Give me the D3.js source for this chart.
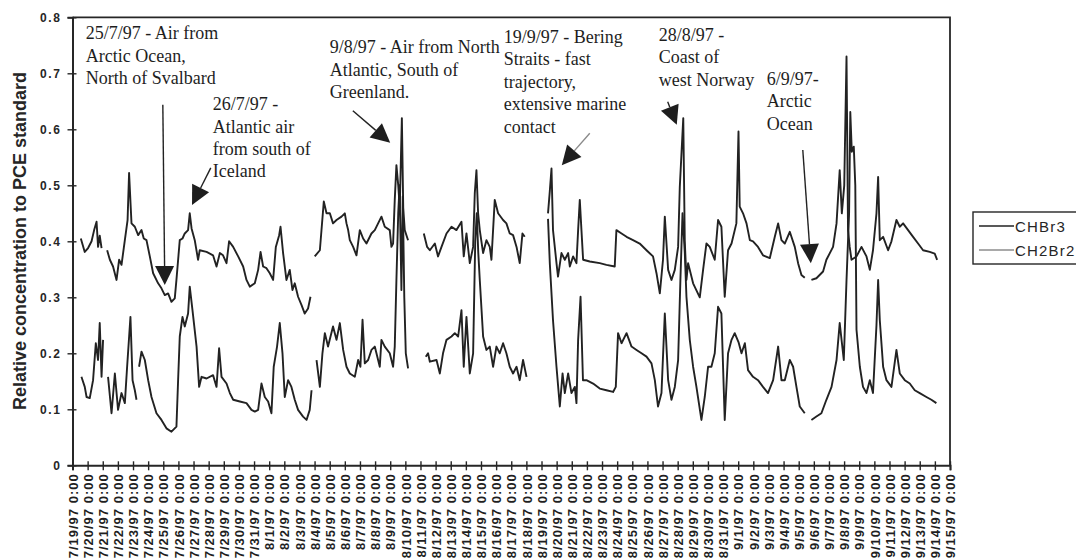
<!DOCTYPE html>
<html>
<head>
<meta charset="utf-8">
<script src="https://cdn.jsdelivr.net/npm/d3@7"></script>
<style>
  html, body { margin: 0; padding: 0; background: #fff; }
  svg { display: block; }
</style>
</head>
<body>
<svg id="chart" width="1076" height="560"></svg>
<script>
// Sampling period starts 7/19/97 0:00; samples are given as [days since start, relative concentration].
const startDate = "1997-07-19";
const endDate = "1997-09-15";
const yTicks = [0, 0.1, 0.2, 0.3, 0.4, 0.5, 0.6, 0.7, 0.8];
const seriesNames = ["CHBr3", "CH2Br2"];

// CHBr3 (null marks a break in the record)
const chbr3 = [
  [0.55,0.405],[0.81,0.381],[1.03,0.388],[1.26,0.40],[1.43,0.42],[1.59,0.435],[1.69,0.39],[1.80,0.41],[1.92,0.388],[2.1,null],
  [2.29,0.384],[2.47,0.367],[2.68,0.355],[2.91,0.331],[3.08,0.367],[3.24,0.358],[3.46,0.402],[3.64,0.438],[3.74,0.522],[3.90,0.432],
  [4.12,0.426],[4.34,0.411],[4.56,0.42],[4.71,0.405],[4.89,0.402],[5.11,0.373],[5.33,0.343],[5.66,0.325],[5.88,0.316],[6.10,0.304],
  [6.32,0.307],[6.54,0.292],[6.76,0.298],[6.87,0.331],[7.09,0.402],[7.27,0.405],[7.42,0.414],[7.64,0.42],[7.75,0.45],[7.87,0.423],
  [8.08,0.402],[8.30,0.367],[8.41,0.384],[8.86,0.381],[9.29,0.375],[9.52,0.355],[9.74,0.379],[9.95,0.375],[10.18,0.361],[10.35,0.40],
  [10.62,0.39],[10.95,0.373],[11.28,0.355],[11.50,0.331],[11.72,0.319],[12.05,0.325],[12.27,0.349],[12.43,0.381],[12.60,0.355],[12.82,0.352],
  [13.04,0.343],[13.26,0.331],[13.44,0.39],[13.66,0.411],[13.75,0.426],[13.92,0.379],[14.14,0.331],[14.36,0.349],[14.54,0.313],[14.69,0.325],
  [14.91,0.301],[15.14,0.286],[15.35,0.271],[15.57,0.28],[15.73,0.301],[15.9,null],
  [16.01,0.373],[16.35,0.384],[16.61,0.471],[16.79,0.45],[17.01,0.45],[17.22,0.432],[17.45,0.438],[17.78,0.444],[18.00,0.45],[18.11,0.432],
  [18.22,0.42],[18.33,0.402],[18.55,0.39],[18.77,0.375],[18.99,0.42],[19.21,0.405],[19.43,0.396],[19.76,0.414],[19.98,0.42],[20.42,0.444],
  [20.64,0.426],[20.97,0.42],[21.08,0.39],[21.19,0.396],[21.30,0.474],[21.41,0.536],[21.53,0.50],[21.63,0.46],[21.77,0.62],[21.86,0.46],
  [21.96,0.42],[22.18,0.402],[22.7,null],
  [23.22,0.414],[23.44,0.39],[23.62,0.384],[23.95,0.396],[24.16,0.373],[24.39,0.39],[24.72,0.414],[25.05,0.426],[25.38,0.42],[25.71,0.435],
  [25.86,0.373],[26.04,0.414],[26.26,0.361],[26.48,0.39],[26.59,0.486],[26.70,0.527],[26.81,0.45],[26.92,0.42],[27.14,0.379],[27.36,0.402],
  [27.58,0.39],[27.69,0.367],[27.91,0.474],[28.13,0.45],[28.46,0.438],[28.68,0.432],[28.90,0.414],[29.12,0.411],[29.35,0.39],[29.56,0.361],
  [29.74,0.414],[29.89,0.408],[30.6,null],
  [31.43,0.45],[31.55,0.49],[31.66,0.53],[31.76,0.42],[31.99,0.361],[32.09,0.337],[32.32,0.379],[32.54,0.367],[32.76,0.379],[32.87,0.355],
  [33.09,0.373],[33.31,0.361],[33.42,0.42],[33.53,0.474],[33.64,0.42],[33.75,0.367],[34.19,0.364],[34.85,0.361],[35.29,0.358],[35.84,0.355],
  [35.95,0.42],[36.29,0.414],[36.62,0.408],[37.05,0.402],[37.49,0.396],[37.94,0.384],[38.37,0.373],[38.60,0.343],[38.82,0.307],[39.03,0.367],
  [39.15,0.444],[39.37,0.349],[39.59,0.331],[39.81,0.349],[40.03,0.39],[40.14,0.497],[40.37,0.62],[40.47,0.40],[40.58,0.331],[40.69,0.361],
  [41.02,0.325],[41.46,0.30],[41.68,0.349],[41.90,0.396],[42.12,0.39],[42.45,0.367],[42.67,0.438],[42.89,0.426],[43.11,0.301],[43.33,0.384],
  [43.56,0.396],[43.88,0.432],[44.02,0.596],[44.10,0.462],[44.32,0.45],[44.55,0.432],[44.77,0.402],[44.98,0.40],[45.31,0.39],[45.64,0.375],
  [46.09,0.37],[46.42,0.408],[46.64,0.432],[46.86,0.402],[47.08,0.396],[47.41,0.417],[47.74,0.39],[47.96,0.361],[48.18,0.34],[48.40,0.335],
  [48.6,null],
  [48.84,0.331],[49.17,0.334],[49.61,0.346],[49.83,0.367],[50.27,0.39],[50.50,0.432],[50.71,0.527],[50.85,0.45],[51.01,0.50],[51.16,0.73],
  [51.26,0.42],[51.37,0.39],[51.49,0.367],[51.82,0.373],[52.15,0.39],[52.48,0.373],[52.70,0.349],[52.91,0.384],[53.14,0.45],[53.25,0.515],
  [53.36,0.402],[53.58,0.408],[53.91,0.384],[54.13,0.40],[54.46,0.438],[54.68,0.426],[54.90,0.432],[55.23,0.42],[55.56,0.408],[55.89,0.396],
  [56.22,0.384],[56.66,0.381],[56.99,0.378],[57.15,0.367]
];

// CH2Br2 (null marks a break in the record)
const ch2br2 = [
  [0.59,0.158],[0.81,0.14],[0.93,0.122],[1.14,0.12],[1.36,0.152],[1.54,0.218],[1.69,0.188],[1.80,0.254],[1.92,0.158],[2.02,0.224],[2.15,null],
  [2.35,0.158],[2.58,0.093],[2.80,0.164],[3.01,0.099],[3.24,0.129],[3.46,0.111],[3.61,0.176],[3.83,0.265],[3.97,0.152],[4.12,0.134],
  [4.23,0.117],[4.3,null],
  [4.40,0.176],[4.56,0.203],[4.78,0.188],[5.00,0.152],[5.22,0.122],[5.55,0.093],[5.88,0.081],[6.21,0.066],[6.54,0.06],[6.87,0.069],
  [6.98,0.152],[7.09,0.23],[7.27,0.265],[7.42,0.248],[7.64,0.271],[7.75,0.319],[7.93,0.277],[8.20,0.212],[8.37,0.14],[8.53,0.158],
  [8.86,0.155],[9.29,0.161],[9.52,0.14],[9.69,0.209],[9.85,0.158],[10.18,0.146],[10.40,0.129],[10.62,0.117],[11.06,0.114],[11.50,0.111],
  [11.83,0.099],[12.05,0.096],[12.27,0.099],[12.49,0.146],[12.71,0.122],[12.93,0.114],[13.15,0.093],[13.30,0.176],[13.52,0.212],[13.70,0.254],
  [13.88,0.20],[14.03,0.122],[14.25,0.152],[14.47,0.14],[14.69,0.117],[14.91,0.099],[15.24,0.087],[15.47,0.081],[15.68,0.099],[15.80,0.134],
  [15.95,null],
  [16.13,0.188],[16.35,0.14],[16.52,0.20],[16.68,0.236],[16.89,0.212],[17.22,0.248],[17.45,0.224],[17.67,0.254],[17.89,0.206],[18.11,0.176],
  [18.33,0.164],[18.66,0.158],[18.88,0.188],[19.03,0.176],[19.17,0.26],[19.32,0.182],[19.54,0.188],[19.76,0.206],[19.98,0.212],[20.31,0.176],
  [20.42,0.224],[20.64,0.212],[20.97,0.20],[21.19,0.176],[21.30,0.212],[21.41,0.331],[21.53,0.45],[21.62,0.50],[21.74,0.313],[21.83,0.48],
  [21.93,0.30],[22.03,0.20],[22.18,0.173],[22.7,null],
  [23.35,0.194],[23.50,0.20],[23.62,0.185],[24.06,0.188],[24.28,0.164],[24.49,0.20],[24.72,0.224],[25.05,0.23],[25.27,0.236],[25.49,0.23],
  [25.71,0.277],[25.86,0.176],[26.04,0.265],[26.26,0.164],[26.48,0.20],[26.62,0.40],[26.72,0.45],[26.82,0.38],[26.92,0.331],[27.14,0.23],
  [27.36,0.206],[27.58,0.212],[27.80,0.176],[28.02,0.212],[28.24,0.20],[28.46,0.218],[28.68,0.20],[28.90,0.176],[29.12,0.164],[29.35,0.176],
  [29.56,0.152],[29.78,0.188],[30.01,0.158],[30.6,null],
  [31.43,0.44],[31.55,0.36],[31.76,0.259],[31.99,0.176],[32.21,0.105],[32.39,0.164],[32.54,0.129],[32.76,0.164],[32.98,0.129],[33.20,0.14],
  [33.31,0.111],[33.42,0.224],[33.58,0.301],[33.74,0.152],[33.97,0.152],[34.41,0.146],[34.85,0.137],[35.29,0.134],[35.73,0.131],[35.91,0.14],
  [36.06,0.236],[36.29,0.218],[36.62,0.236],[36.95,0.212],[37.28,0.206],[37.61,0.20],[37.94,0.194],[38.27,0.182],[38.49,0.152],[38.70,0.105],
  [38.93,0.129],[39.15,0.271],[39.37,0.152],[39.59,0.117],[39.81,0.14],[40.03,0.188],[40.18,0.331],[40.32,0.45],[40.47,0.38],[40.58,0.301],
  [40.80,0.224],[41.02,0.176],[41.24,0.14],[41.57,0.081],[41.79,0.122],[42.01,0.176],[42.23,0.176],[42.45,0.20],[42.67,0.283],[42.89,0.271],
  [43.11,0.081],[43.33,0.20],[43.56,0.224],[43.77,0.236],[44.02,0.22],[44.22,0.20],[44.44,0.218],[44.65,0.17],[44.98,0.158],[45.31,0.152],
  [45.64,0.14],[45.97,0.129],[46.31,0.152],[46.64,0.212],[46.86,0.152],[47.08,0.152],[47.41,0.188],[47.63,0.176],[47.85,0.14],[48.07,0.105],
  [48.40,0.093],[48.6,null],
  [48.84,0.081],[49.17,0.087],[49.50,0.093],[49.83,0.117],[50.17,0.14],[50.50,0.188],[50.71,0.254],[50.98,0.188],[51.16,0.331],[51.33,0.45],
  [51.41,0.631],[51.51,0.56],[51.64,0.569],[51.74,0.50],[51.82,0.242],[52.04,0.176],[52.25,0.14],[52.48,0.129],[52.70,0.152],[52.91,0.129],
  [53.14,0.25],[53.25,0.331],[53.36,0.259],[53.58,0.176],[53.80,0.152],[54.13,0.14],[54.46,0.206],[54.68,0.164],[55.01,0.152],[55.34,0.146],
  [55.67,0.134],[56.00,0.129],[56.44,0.122],[56.77,0.117],[57.10,0.111]
];

// Event notes: text anchor and arrow (tail -> tip) in [days, concentration]
const notes = [
  { lines: ["25/7/97 - Air from", "Arctic Ocean,", "North of Svalbard"], at: [0.88, 0.761], from: [5.97, 0.644], to: [6.10, 0.322] },
  { lines: ["26/7/97 -", "Atlantic air", "from south of", "Iceland"], at: [9.27, 0.634], from: [9.14, 0.531], to: [7.90, 0.465] },
  { lines: ["9/8/97 - Air from North", "Atlantic, South of", "Greenland."], at: [17.0, 0.736], from: [18.53, 0.633], to: [21.0, 0.576] },
  { lines: ["19/9/97 - Bering", "Straits - fast", "trajectory,", "extensive marine", "contact"], at: [28.5, 0.754], from: [34.19, 0.593], to: [32.34, 0.536], faint: true },
  { lines: ["28/8/97 -", "Coast of", "west Norway"], at: [38.75, 0.758], from: [39.34, 0.649], to: [39.94, 0.608] },
  { lines: ["6/9/97-", "Arctic", "Ocean"], at: [45.89, 0.679], from: [48.27, 0.563], to: [48.80, 0.361] }
];

const svg = d3.select("#chart");
const margin = { left: 72.5, right: 950, top: 17.3, bottom: 465.3 };
const sans = "'Liberation Sans', Arial, sans-serif";
const serif = "'Liberation Serif', 'Times New Roman', serif";
const ink = "#262626";

const t0 = d3.isoParse(startDate + "T00:00:00");
const t1 = d3.isoParse(endDate + "T00:00:00");
const toDate = d => new Date(t0.getTime() + d * 864e5);

const x = d3.scaleTime().domain([t0, t1]).range([margin.left, margin.right]);
const y = d3.scaleLinear().domain([0, 0.8]).range([margin.bottom, margin.top]);

// plot frame (top and right edges)
svg.append("path")
  .attr("d", `M${margin.left},${margin.top}H${margin.right}V${margin.bottom}`)
  .attr("fill", "none").attr("stroke", ink).attr("stroke-width", 1.8);

// y axis
const yAxis = svg.append("g")
  .attr("transform", `translate(${margin.left},0)`)
  .call(d3.axisLeft(y).tickValues(yTicks).tickSize(5).tickPadding(6)
    .tickFormat(v => v === 0 ? "0" : d3.format(".1f")(v)));
yAxis.select(".domain").attr("stroke", ink).attr("stroke-width", 2);
yAxis.selectAll(".tick line").attr("stroke", ink).attr("stroke-width", 1.4);
yAxis.selectAll(".tick").append("line").attr("x2", 4).attr("stroke", ink).attr("stroke-width", 1.4);
yAxis.selectAll(".tick text")
  .attr("font-family", sans).attr("font-size", 12).attr("font-weight", "bold")
  .attr("letter-spacing", 1.6).attr("fill", ink);

// x axis
const xAxis = svg.append("g")
  .attr("transform", `translate(0,${margin.bottom})`)
  .call(d3.axisBottom(x).ticks(d3.timeDay.every(1)).tickSize(5)
    .tickFormat(d3.timeFormat("%-m/%-d/%y %-H:%M")));
xAxis.select(".domain").attr("stroke", ink).attr("stroke-width", 2);
xAxis.selectAll(".tick line").attr("stroke", ink).attr("stroke-width", 1.4);
xAxis.selectAll(".tick").append("line").attr("y2", -4).attr("stroke", ink).attr("stroke-width", 1.4);
xAxis.selectAll(".tick text")
  .attr("transform", "rotate(-90)")
  .attr("text-anchor", "end")
  .attr("x", -8).attr("y", 0).attr("dy", "0.36em")
  .attr("font-family", sans).attr("font-size", 13).attr("font-weight", "bold")
  .attr("letter-spacing", 1).attr("fill", "#1f1f1f");

// y axis title
svg.append("text")
  .attr("transform", `translate(26,241) rotate(-90)`)
  .attr("text-anchor", "middle")
  .attr("font-family", sans).attr("font-size", 18).attr("font-weight", "bold")
  .attr("fill", ink)
  .text("Relative concentration to PCE standard");

// series lines
const line = d3.line()
  .defined(d => d[1] !== null)
  .x(d => x(toDate(d[0])))
  .y(d => y(d[1]));

const seriesData = [chbr3, ch2br2];
svg.append("g").selectAll("path")
  .data(seriesData)
  .join("path")
  .attr("d", line)
  .attr("fill", "none")
  .attr("stroke", "#222")
  .attr("stroke-width", 1.9)
  .attr("stroke-linejoin", "round");

// event notes with arrows
const noteG = svg.append("g");
notes.forEach(n => {
  const tx = x(toDate(n.at[0])), ty = y(n.at[1]);
  const txt = noteG.append("text")
    .attr("font-family", serif).attr("font-size", 18).attr("fill", "#1e1e1e");
  n.lines.forEach((s, i) => {
    txt.append("tspan").attr("x", tx).attr("y", ty + i * 22.4).text(s);
  });
  const ax = x(toDate(n.from[0])), ay = y(n.from[1]);
  const bx = x(toDate(n.to[0])), by = y(n.to[1]);
  const len = Math.hypot(bx - ax, by - ay);
  const ux = (bx - ax) / len, uy = (by - ay) / len;
  const headLen = 19, headHalf = 9.5;
  const hx = bx - ux * headLen, hy = by - uy * headLen;
  noteG.append("line")
    .attr("x1", ax).attr("y1", ay).attr("x2", hx).attr("y2", hy)
    .attr("stroke", n.faint ? "#8a8a8a" : "#222").attr("stroke-width", 1.4);
  noteG.append("path")
    .attr("d", `M${bx},${by}L${hx - uy * headHalf},${hy + ux * headHalf}L${hx + uy * headHalf},${hy - ux * headHalf}Z`)
    .attr("fill", "#1e1e1e");
});

// legend
const lg = svg.append("g").attr("transform", "translate(973,212)");
lg.append("rect").attr("width", 120).attr("height", 52)
  .attr("fill", "#fff").attr("stroke", ink).attr("stroke-width", 1.4);
seriesNames.forEach((name, i) => {
  const yy = 14 + i * 24;
  lg.append("line").attr("x1", 6).attr("x2", 41).attr("y1", yy).attr("y2", yy)
    .attr("stroke", i === 0 ? "#222" : "#555").attr("stroke-width", i === 0 ? 1.7 : 1.2);
  lg.append("text").attr("x", 42).attr("y", yy + 5.5)
    .attr("font-family", sans).attr("font-size", 15).attr("letter-spacing", 1.2)
    .attr("fill", ink).text(name);
});
</script>
</body>
</html>
